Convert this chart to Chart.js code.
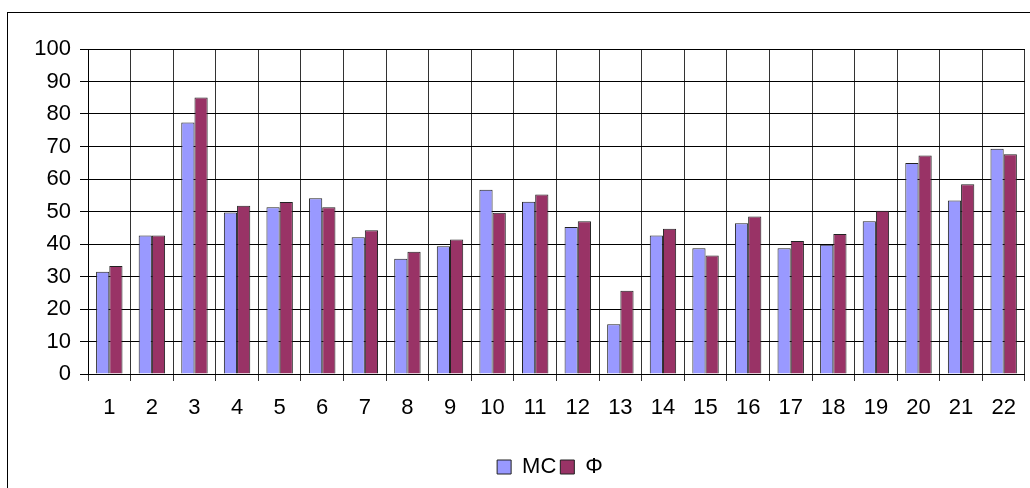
<!DOCTYPE html>
<html>
<head>
<meta charset="utf-8">
<script src="https://cdn.jsdelivr.net/npm/chart.js@4.4.0/dist/chart.umd.min.js"></script>
<style>
  html, body { margin: 0; padding: 0; background: #fff; overflow: hidden; }
  .wrap { position: relative; width: 1030px; height: 488px; overflow: hidden; }
  .frame { position: absolute; left: 7px; top: 12px; width: 1200px; height: 600px; border: 1px solid #000; }
  canvas { position: absolute; left: 0; top: 0; }
</style>
</head>
<body>
<div class="wrap">
  <div class="frame"></div>
  <canvas id="chart" width="1030" height="488"></canvas>
</div>
<script>
// categories
const labels = ["1", "2", "3", "4", "5", "6", "7", "8", "9", "10", "11",
  "12", "13", "14", "15", "16", "17", "18", "19", "20", "21", "22"];

// series
const mcValues = [31.5, 42.6, 77.4, 49.7, 51.3, 54.1, 42.1, 35.5, 39.3, 56.7, 53.0,
  45.2, 15.3, 42.6, 38.7, 46.4, 38.7, 39.8, 47.0, 64.9, 53.4, 69.3];
const fValues = [33.2, 42.6, 85.1, 51.8, 52.9, 51.3, 44.2, 37.6, 41.4, 49.6, 55.2,
  47.0, 25.6, 44.7, 36.5, 48.5, 40.9, 43.1, 50.2, 67.2, 58.4, 67.6];

// y axis
const yMin = 0;
const yMax = 100;
const yStep = 10;

const fontFamily = "'Liberation Sans', Arial, sans-serif";

// legend sits a bit right of the canvas centre in the original
const legendShift = {
  id: "legendShift",
  afterLayout(chart) {
    const lg = chart.legend;
    if (lg) {
      lg.left += 37;
      lg.right += 37;
    }
  },
};

const data = {
  labels: labels,
  datasets: [
    {
      label: "MC",
      data: mcValues,
      backgroundColor: "#9999FF",
      borderColor: "#222222",
      borderWidth: 1,
      borderSkipped: "bottom",
    },
    {
      label: "Φ",
      data: fValues,
      backgroundColor: "#993366",
      borderColor: "#222222",
      borderWidth: 1,
      borderSkipped: "bottom",
    },
  ],
};

const config = {
  type: "bar",
  data,
  plugins: [legendShift],
  options: {
    responsive: false,
    animation: false,
    devicePixelRatio: 1,
    datasets: {
      bar: {
        categoryPercentage: 0.62,
        barPercentage: 1,
      },
    },
    layout: {
      padding: { top: 49, right: 4, left: 0, bottom: 0 },
    },
    scales: {
      x: {
        grid: {
          color: "#333333",
          lineWidth: 1,
          tickLength: 7,
          offset: true,
        },
        border: { color: "#000000", width: 1 },
        ticks: {
          color: "#000000",
          font: { family: fontFamily, size: 22 },
          padding: 14,
          maxRotation: 0,
          autoSkip: false,
        },
        afterFit: function (scale) {
          scale.height = 78;
        },
      },
      y: {
        min: yMin,
        max: yMax,
        grid: {
          color: "#000000",
          lineWidth: 1,
          tickLength: 8,
        },
        border: { color: "#000000", width: 1 },
        ticks: {
          stepSize: yStep,
          color: "#000000",
          font: { family: fontFamily, size: 22 },
          padding: 9,
        },
        afterFit: function (scale) {
          scale.width = 88;
        },
      },
    },
    plugins: {
      tooltip: { enabled: false },
      legend: {
        display: true,
        position: "bottom",
        labels: {
          color: "#000000",
          font: { family: fontFamily, size: 22 },
          boxWidth: 14,
          boxHeight: 14,
          padding: 4,
        },
      },
    },
  },
};

const chart = new Chart(document.getElementById("chart"), config);
</script>
</body>
</html>
